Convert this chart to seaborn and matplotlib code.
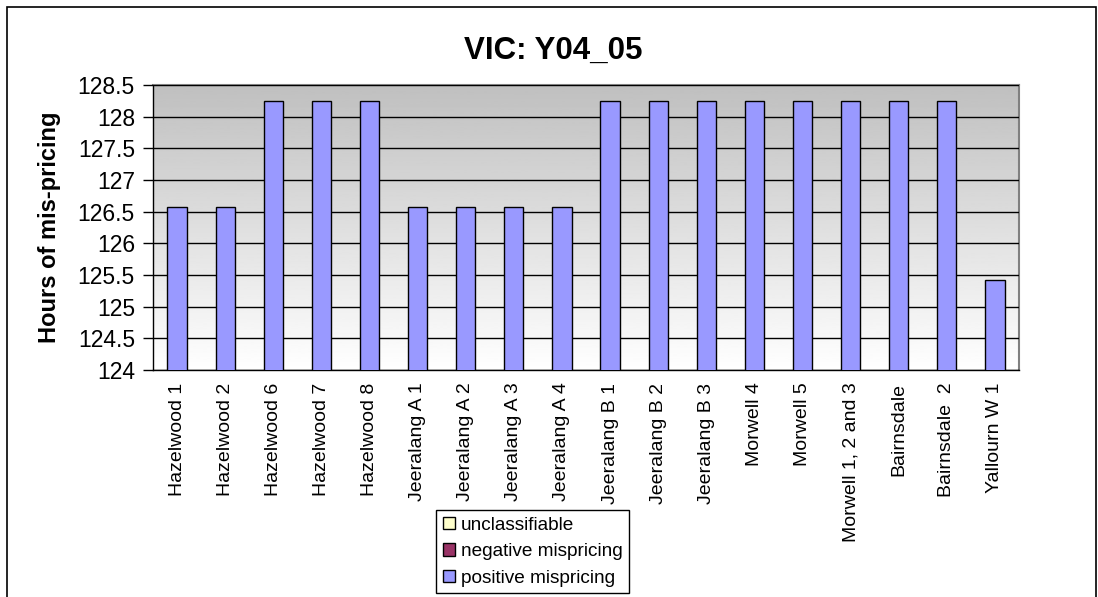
import numpy as np
import seaborn as sns
import matplotlib.pyplot as plt
from matplotlib.patches import Patch, Rectangle

plants = ["Hazelwood 1", "Hazelwood 2", "Hazelwood 6", "Hazelwood 7", "Hazelwood 8",
          "Jeeralang A 1", "Jeeralang A 2", "Jeeralang A 3", "Jeeralang A 4",
          "Jeeralang B 1", "Jeeralang B 2", "Jeeralang B 3", "Morwell 4", "Morwell 5",
          "Morwell 1, 2 and 3", "Bairnsdale", "Bairnsdale  2", "Yallourn W 1"]
positive = [126.58, 126.58, 128.25, 128.25, 128.25, 126.58, 126.58, 126.58, 126.58,
            128.25, 128.25, 128.25, 128.25, 128.25, 128.25, 128.25, 128.25, 125.42]
legend_labels = ["unclassifiable", "negative mispricing", "positive mispricing"]
legend_colors = ["#FFFFCC", "#993366", "#9999FF"]

sns.set_style("white")
plt.rcParams['font.family'] = ['Liberation Sans', 'DejaVu Sans']
plt.rcParams['text.color'] = 'black'
plt.rcParams['axes.labelcolor'] = 'black'
plt.rcParams['xtick.color'] = 'black'
plt.rcParams['ytick.color'] = 'black'

fig = plt.figure(figsize=(10.98, 5.97), dpi=100)
ax = fig.add_axes([153 / 1098, 1 - 370 / 597, (1019 - 153) / 1098, (370 - 85) / 597])

# gradient background, grey at top to white at bottom
grad = np.linspace(0.75, 1.0, 256).reshape(-1, 1)
ax.imshow(grad, cmap='gray', vmin=0, vmax=1, aspect='auto', origin='upper',
          extent=[-0.5, len(plants) - 0.5, 124, 128.5], zorder=0)

sns.barplot(x=plants, y=positive, color="#9999FF", edgecolor="black",
            linewidth=1, width=0.4, saturation=1, ax=ax, zorder=3)

ax.set_xlim(-0.5, len(plants) - 0.5)
ax.set_ylim(124, 128.5)
ax.set_yticks(np.arange(124, 128.51, 0.5))
ax.set_yticklabels([f"{v:g}" for v in np.arange(124, 128.51, 0.5)], fontsize=16.5)
ax.yaxis.grid(True, color="black", linewidth=1)
ax.set_axisbelow(False)
for ln in ax.get_ygridlines():
    ln.set_zorder(2)

ax.set_xticks(range(len(plants)))
ax.set_xticklabels(plants, rotation=90, fontsize=14)
ax.set_xticks(np.arange(-0.5, len(plants), 1), minor=True)
ax.tick_params(axis='x', which='major', length=0, pad=9)
ax.tick_params(axis='x', which='minor', length=6, width=1, color='black', direction='out')
ax.tick_params(axis='y', length=7, width=1, color='black', direction='out', left=True, pad=6)

for side in ["top", "right"]:
    ax.spines[side].set_color("#808080")
    ax.spines[side].set_linewidth(1.5)
for side in ["left", "bottom"]:
    ax.spines[side].set_color("black")
    ax.spines[side].set_linewidth(1)

ax.set_ylabel("Hours of mis-pricing", fontsize=17, fontweight='bold', labelpad=12)
fig.text(553 / 1098, 1 - 59 / 597, "VIC: Y04_05", fontsize=22.5, fontweight='bold',
         ha='center', va='baseline')

handles = [Patch(facecolor=c, edgecolor="black", linewidth=1) for c in legend_colors]
leg = fig.legend(handles, legend_labels, loc="upper left",
                 bbox_to_anchor=(436 / 1098, 1 - 510 / 597), fontsize=13.7,
                 frameon=True, fancybox=False, edgecolor="black", framealpha=1,
                 handlelength=0.65, handleheight=0.65, handletextpad=0.3,
                 labelspacing=0.5, borderpad=0.35, borderaxespad=0)
leg.get_frame().set_linewidth(1)

fig.patches.append(Rectangle((7 / 1098, -0.05), (1096 - 7) / 1098, 1.05 - 7 / 597,
                             transform=fig.transFigure, fill=False,
                             edgecolor="black", linewidth=1.2))

fig.savefig("out.png", dpi=100)
